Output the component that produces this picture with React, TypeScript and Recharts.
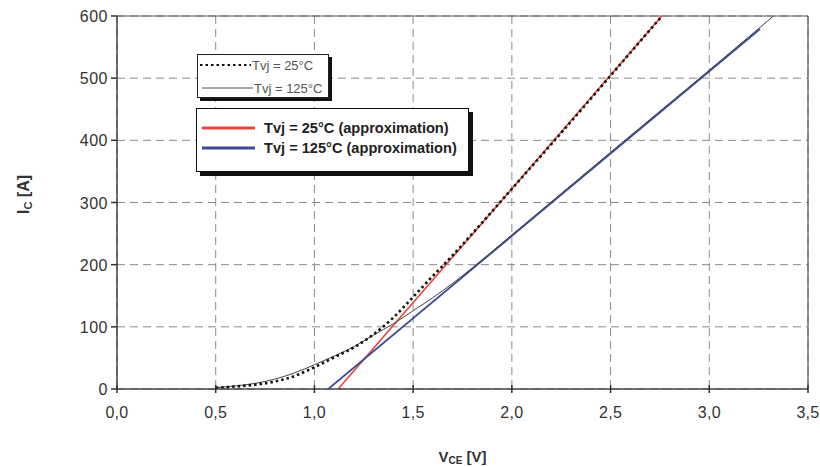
import React from 'react';
import { LineChart, Line, XAxis, YAxis, CartesianGrid, ReferenceLine, Label } from 'recharts';

// ---- data ----
const vTicks = [0, 0.5, 1, 1.5, 2, 2.5, 3, 3.5];
const iTicks = [0, 100, 200, 300, 400, 500, 600];

const meas25V = [0.5, 0.6, 0.7, 0.8, 0.9, 1.0, 1.1, 1.2, 1.3, 1.4, 1.5, 1.6, 1.7, 1.8, 2.0, 2.25, 2.5, 2.76];
const meas25I = [2, 4, 7, 12, 21, 35, 51, 67, 88, 115, 148, 182, 215, 250, 322, 412, 504, 600];

const meas125V = [0.5, 0.6, 0.7, 0.8, 0.9, 1.0, 1.1, 1.2, 1.3, 1.4, 1.5, 1.6, 1.7, 1.8, 2.0, 2.5, 3.0, 3.325];
const meas125I = [2, 5, 9, 16, 26, 39, 53, 68, 87, 105, 126, 147, 170, 195, 248, 381, 513, 600];

const approx25V = [1.12, 2.76];
const approx25I = [0, 600];
const approx125V = [1.07, 3.257];
const approx125I = [0, 579];

const legendMeasured = ['Tvj = 25°C', 'Tvj = 125°C'];
const legendApprox = ['Tvj = 25°C (approximation)', 'Tvj = 125°C (approximation)'];

const zip = (vs: number[], is: number[]) => vs.map((v, k) => ({ v, i: is[k] }));
const d25 = zip(meas25V, meas25I);
const d125 = zip(meas125V, meas125I);
const a25 = zip(approx25V, approx25I);
const a125 = zip(approx125V, approx125I);

const FONT = '"Liberation Sans", Arial, sans-serif';
const RED = '#e4473c';
const BLUE = '#3c4a98';

const XTick = (props: any) => {
  const { x, y, payload } = props;
  return (
    <g>
      <line x1={x} x2={x} y1={y - 4} y2={y + 4} stroke="#333" strokeWidth={1.5} />
      <text x={x} y={y + 29} textAnchor="middle" fontFamily={FONT} fontSize={16} fill="#333" letterSpacing={0.3}>
        {payload.value.toFixed(1).replace('.', ',')}
      </text>
    </g>
  );
};

const YTick = (props: any) => {
  const { x, y, payload } = props;
  return (
    <g>
      <line x1={x - 6} x2={x} y1={y} y2={y} stroke="#333" strokeWidth={1.5} />
      <text x={x - 9} y={y + 6} textAnchor="end" fontFamily={FONT} fontSize={16} fill="#333" letterSpacing={0.5}>
        {payload.value}
      </text>
    </g>
  );
};

const YTitle = (props: any) => {
  const { viewBox } = props;
  const cx = viewBox.x + 25;
  const cy = viewBox.y + viewBox.height / 2 - 8;
  return (
    <text transform={`translate(${cx},${cy}) rotate(-90)`} textAnchor="middle" dominantBaseline="middle"
      fontFamily={FONT} fontWeight="bold" fontSize={16} fill="#333">
      I<tspan fontSize={11} dy={4}>C</tspan><tspan dy={-4}> [A]</tspan>
    </text>
  );
};

const XTitle = (props: any) => {
  const { viewBox } = props;
  const cx = viewBox.x + viewBox.width / 2;
  const cy = viewBox.y + 73;
  return (
    <text x={cx} y={cy} textAnchor="middle" fontFamily={FONT} fontWeight="bold" fontSize={15} fill="#333">
      V<tspan fontSize={10} dy={2}>CE</tspan><tspan dy={-2}> [V]</tspan>
    </text>
  );
};

export default function App() {
  return (
    <div style={{ position: 'absolute', left: 0, top: 0, width: 820, height: 467, background: '#fff' }}>
      <LineChart width={820} height={467} margin={{ top: 16, right: 12, left: 0, bottom: 0 }}>
        <CartesianGrid stroke="#8a8a8a" strokeDasharray="8 5" strokeWidth={1} />
        <XAxis type="number" dataKey="v" domain={[0, 3.5]} ticks={vTicks} allowDataOverflow
          height={78} tickSize={0} tickMargin={0} tickLine={false} tick={<XTick />}
          axisLine={{ stroke: '#444', strokeWidth: 1.5 }} interval={0}>
          <Label content={<XTitle />} />
        </XAxis>
        <YAxis type="number" domain={[0, 600]} ticks={iTicks} allowDataOverflow
          width={117} tickSize={0} tickMargin={0} tickLine={false} tick={<YTick />}
          axisLine={{ stroke: '#444', strokeWidth: 1.5 }} interval={0}>
          <Label content={<YTitle />} />
        </YAxis>
        <ReferenceLine y={600} stroke="#555" strokeWidth={1.2} />
        <ReferenceLine x={3.5} stroke="#555" strokeWidth={1.2} />
        <Line data={a25} dataKey="i" type="linear" stroke={RED} strokeWidth={1.6} dot={false} isAnimationActive={false} />
        <Line data={a125} dataKey="i" type="linear" stroke={BLUE} strokeWidth={1.8} dot={false} isAnimationActive={false} />
        <Line data={d125} dataKey="i" type="monotone" stroke="#444" strokeWidth={1} dot={false} isAnimationActive={false} />
        <Line data={d25} dataKey="i" type="monotone" stroke="#111" strokeWidth={2.6} strokeDasharray="2.5 3"
          dot={false} isAnimationActive={false} />
      </LineChart>

      <div style={{ position: 'absolute', left: 197, top: 54, width: 130, height: 42, border: '1.5px solid #222',
        boxShadow: '3px 3px 0 #111', background: '#fff', fontFamily: FONT, fontSize: 13, letterSpacing: 0, color: '#555' }}>
        {legendMeasured.map((t, k) => (
          <div key={t} style={{ position: 'absolute', left: 1, top: k === 0 ? 2 : 25, height: 16, display: 'flex', alignItems: 'center', whiteSpace: 'nowrap' }}>
            <svg width={k === 0 ? 52 : 54} height={6}>
              {k === 0
                ? <line x1={1} x2={52} y1={3} y2={3} stroke="#111" strokeWidth={2.2} strokeDasharray="2.5 3" />
                : <line x1={3} x2={54} y1={3} y2={3} stroke="#555" strokeWidth={1} />}
            </svg>
            <span style={{ marginLeft: 1 }}>{t}</span>
          </div>
        ))}
      </div>

      <div style={{ position: 'absolute', left: 196, top: 108, width: 271, height: 62, border: '1.5px solid #111',
        boxShadow: '4px 4px 0 #111', background: '#fff', fontFamily: FONT, fontSize: 14.6, fontWeight: 'bold', color: '#222' }}>
        {legendApprox.map((t, k) => (
          <div key={t} style={{ position: 'absolute', left: 5, top: k === 0 ? 10 : 30, height: 18, display: 'flex', alignItems: 'center', whiteSpace: 'nowrap' }}>
            <svg width={54} height={6}>
              <line x1={0} x2={53} y1={3} y2={3} stroke={k === 0 ? RED : BLUE} strokeWidth={3} />
            </svg>
            <span style={{ marginLeft: 8 }}>{t}</span>
          </div>
        ))}
      </div>
    </div>
  );
}
